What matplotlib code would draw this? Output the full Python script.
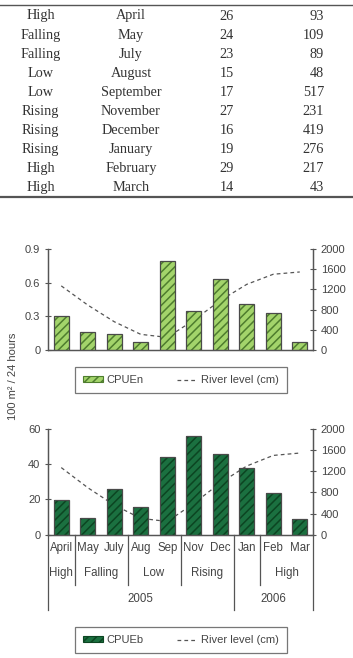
import matplotlib
matplotlib.use("Agg")
import matplotlib.pyplot as plt
from matplotlib.patches import Patch
from matplotlib.lines import Line2D
import matplotlib.transforms as mtransforms

plt.rcParams['font.family'] = ['Liberation Sans', 'DejaVu Sans']
plt.rcParams['hatch.linewidth'] = 1.1

# ====== data ======
periods = ["High", "Falling", "Falling", "Low", "Low", "Rising", "Rising", "Rising", "High", "High"]
months_full = ["April", "May", "July", "August", "September", "November",
               "December", "January", "February", "March"]
richness = [26, 24, 23, 15, 17, 27, 16, 19, 29, 14]
abundance = [93, 109, 89, 48, 517, 231, 419, 276, 217, 43]

months_short = ["April", "May", "July", "Aug", "Sep", "Nov", "Dec", "Jan", "Feb", "Mar"]
cpue_n = [0.30, 0.16, 0.14, 0.07, 0.79, 0.35, 0.63, 0.41, 0.33, 0.07]
cpue_b = [19.5, 9.3, 25.9, 15.7, 43.9, 55.8, 45.6, 38.0, 23.5, 9.1]
river_level = [1270, 890, 560, 310, 250, 590, 980, 1300, 1500, 1545]

# period groups: (label, first index, last index)
period_groups = [("High", 0, 0), ("Falling", 1, 2), ("Low", 3, 4),
                 ("Rising", 5, 6), ("", 7, 7), ("High", 8, 9)]
year_groups = [("2005", 0, 6), ("2006", 7, 9)]

W, H = 353, 658
fig = plt.figure(figsize=(W / 100, H / 100), dpi=100)
fig.patch.set_facecolor("white")

# ====== table ======
tcol = "#333333"
tfont = dict(family=["Liberation Serif", "DejaVu Serif"], fontsize=10.3, color=tcol)


def fy(py):
    return 1 - py / H


# header row is cut off by the top edge in the original
fig.text(40.7 / W, fy(-3.5), "Period", ha="center", va="center", **tfont)
fig.text(131 / W, fy(-3.5), "Month", ha="center", va="center", **tfont)
fig.text(222 / W, fy(-3.5), "Richness", ha="center", va="center", **tfont)
fig.text(312 / W, fy(-3.5), "Abundance", ha="center", va="center", **tfont)
fig.add_artist(Line2D([0, 1], [fy(4.7), fy(4.7)], color="#555555", lw=1.0))
for i in range(len(periods)):
    y = fy(16 + i * 19.05)
    fig.text(40.7 / W, y, periods[i], ha="center", va="center", **tfont)
    fig.text(131 / W, y, months_full[i], ha="center", va="center", **tfont)
    fig.text(226.7 / W, y, str(richness[i]), ha="center", va="center", **tfont)
    fig.text(324 / W, y, str(abundance[i]), ha="right", va="center", **tfont)
fig.add_artist(Line2D([0, 1], [fy(197.3), fy(197.3)], color="#555555", lw=1.6))

# ====== charts ======
axcol = "#555555"
lblcol = "#444444"
x = list(range(len(months_short)))


def style_axes(ax, ax2):
    for a in (ax, ax2):
        a.spines["top"].set_visible(False)
        for s in ("left", "right", "bottom"):
            a.spines[s].set_color(axcol)
            a.spines[s].set_linewidth(0.9)
        a.tick_params(axis="y", direction="inout", length=5, width=0.8,
                      colors=axcol, labelcolor=lblcol, labelsize=8, pad=3)
    ax.tick_params(axis="x", length=0, labelbottom=False)
    ax2.tick_params(axis="x", length=0, labelbottom=False)
    ax.set_xlim(-0.5, 9.5)


def draw_bars(ax, vals, face, hatchcol):
    ax.bar(x, vals, width=0.57, color=face, edgecolor=hatchcol, hatch="////",
           linewidth=0, zorder=2)
    ax.bar(x, vals, width=0.57, fill=False, edgecolor="#4a4a4a",
           linewidth=0.9, zorder=3)


# top chart
ax1 = fig.add_axes([48 / W, fy(350), 265 / W, 101 / H])
ax1b = ax1.twinx()
ax1.set_zorder(ax1b.get_zorder() + 1)
ax1.patch.set_visible(False)
draw_bars(ax1, cpue_n, "#a3d46b", "#4e7d2e")
ax1b.plot(x, river_level, color="#555555", lw=0.9, ls=(0, (3, 2.5)))
ax1.set_ylim(0, 0.9)
ax1.set_yticks([0, 0.3, 0.6, 0.9])
ax1.set_yticklabels(["0", "0.3", "0.6", "0.9"])
ax1b.set_ylim(0, 2000)
ax1b.set_yticks(range(0, 2001, 400))
style_axes(ax1, ax1b)

# bottom chart
ax2 = fig.add_axes([48 / W, fy(534.7), 265 / W, 105.7 / H])
ax2b = ax2.twinx()
ax2.set_zorder(ax2b.get_zorder() + 1)
ax2.patch.set_visible(False)
draw_bars(ax2, cpue_b, "#1b7040", "#0c4522")
ax2b.plot(x, river_level, color="#555555", lw=0.9, ls=(0, (3, 2.5)))
ax2.set_ylim(0, 60)
ax2.set_yticks([0, 20, 40, 60])
ax2b.set_ylim(0, 2000)
ax2b.set_yticks(range(0, 2001, 400))
style_axes(ax2, ax2b)

# multi level category axis
trans = mtransforms.blended_transform_factory(ax2.transData, ax2.transAxes)
ah = 105.7
for i, m in enumerate(months_short):
    ax2.text(i, -13 / ah, m, transform=trans, ha="center", va="center",
             fontsize=8.3, color=lblcol, clip_on=False)
for lab, a, b in period_groups:
    ax2.text((a + b) / 2, -38.3 / ah, lab, transform=trans, ha="center",
             va="center", fontsize=8.3, color=lblcol, clip_on=False)
for lab, a, b in year_groups:
    ax2.text((a + b) / 2, -64.3 / ah, lab, transform=trans, ha="center",
             va="center", fontsize=8.3, color=lblcol, clip_on=False)
# separators
year_edges = [g[1] - 0.5 for g in year_groups] + [year_groups[-1][2] + 0.5]
period_edges = [g[1] - 0.5 for g in period_groups if g[1] - 0.5 not in year_edges]
for e in year_edges:
    ax2.add_line(Line2D([e, e], [0, -75.3 / ah], transform=trans, color=axcol,
                        lw=0.9, clip_on=False))
for e in period_edges:
    ax2.add_line(Line2D([e, e], [0, -50.3 / ah], transform=trans, color=axcol,
                        lw=0.9, clip_on=False))

# y label
fig.text(13 / W, fy(376), "100 m² / 24 hours", rotation=90, ha="center",
         va="center", fontsize=8, color=lblcol)

# legends
line_handle = Line2D([], [], color="#555555", lw=0.9, ls=(0, (3, 2.5)))
leg_kw = dict(loc="center", ncol=2, fontsize=8, frameon=True, fancybox=False,
              handlelength=1.8, handleheight=0.45, handletextpad=0.3,
              columnspacing=3.0, borderpad=0.75, borderaxespad=0,
              labelcolor=lblcol)
h1 = Patch(facecolor="#a3d46b", edgecolor="#4e7d2e", hatch="////", lw=0.8)
leg1 = fig.legend([h1, line_handle], ["CPUEn", "River level (cm)"],
                  bbox_to_anchor=(181 / W, fy(380)), **leg_kw)
leg1.get_frame().set_edgecolor(axcol)
leg1.get_frame().set_linewidth(0.9)
h2 = Patch(facecolor="#1b7040", edgecolor="#0c4522", hatch="////", lw=0.8)
leg2 = fig.legend([h2, line_handle], ["CPUEb", "River level (cm)"],
                  bbox_to_anchor=(181 / W, fy(640)), **leg_kw)
leg2.get_frame().set_edgecolor(axcol)
leg2.get_frame().set_linewidth(0.9)

fig.savefig("out.png", dpi=100, facecolor="white")
